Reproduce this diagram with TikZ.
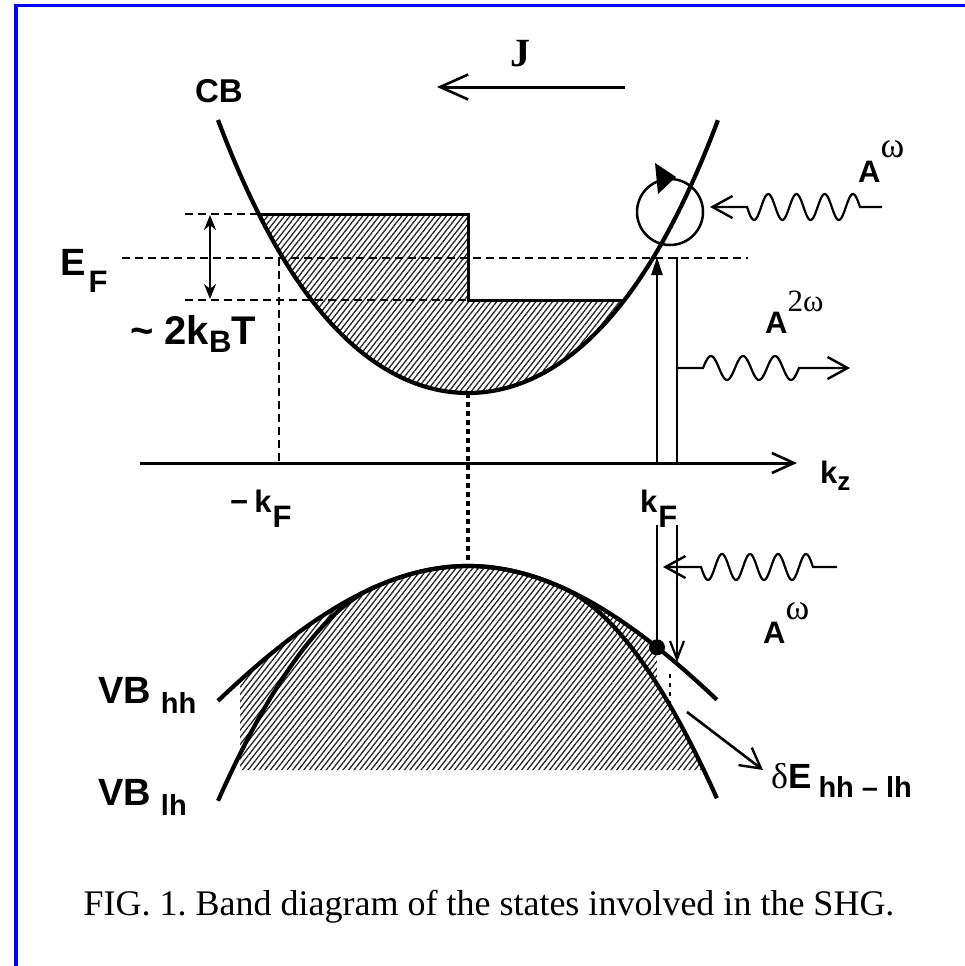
\documentclass[tikz,border=0pt]{standalone}
\usepackage{fontspec}
\setmainfont{Liberation Serif}
\setsansfont{Liberation Sans}
\usetikzlibrary{arrows.meta,patterns.meta}
\newcommand\fs[1]{\fontsize{#1}{#1}\selectfont}
\definecolor{frameblue}{RGB}{0,0,255}
\frenchspacing
\begin{document}
\begin{tikzpicture}[x=1pt,y=-1pt,
  declare function={
    cb(\u)=393-(34.31*\u*\u+1.499*\u*\u*\u*\u);
    hh(\u)=566+447*(sqrt(1+\u*\u/9)-1);
    mm(\u)=max(0,abs(\u)-0.95);
    lh(\u)=hh(\u)+41.6*mm(\u)*mm(\u);
  },
  lab/.style={font=\sffamily\bfseries, inner sep=0pt, anchor=base west},
  bandline/.style={line width=4.2pt, line join=round},
  edgeline/.style={line width=3pt},
  efdash/.style={line width=2.8pt, dash pattern=on 8pt off 5pt},
  dotline/.style={line width=3.4pt, dash pattern=on 5pt off 4pt},
  vline/.style={line width=2.6pt},
  wave/.style={line width=2.2pt},
  hatch/.style={pattern={Lines[angle=52,distance=4.4pt,line width=1.3pt]}, pattern color=black!85},
  barb/.style={-{Straight Barb[length=20pt,width=22pt,line width=2.4pt]}},
]
\useasboundingbox (0,0) rectangle (965,966);
% frame
\draw[frameblue, line width=3pt] (14,5.8) -- (965,5.8);
\draw[frameblue, line width=4pt] (16,4.3) -- (16,966);

% key points
\coordinate (cbmin) at (468,393);
\coordinate (vbmax) at (468,566);
\coordinate (kaxL) at (140,463);
\coordinate (kaxR) at (797,463);
\coordinate (dotpt) at (657,{hh(1.89)});

% CB shading
\fill[hatch] (258.5,214) -- (468,214) -- (468,300) -- (624.5,300)
  -- plot[domain=1.565:-2.095,samples=80] ({468+100*\x},{cb(\x)}) -- cycle;
\draw[edgeline] (258.5,214) -- (468,214) -- (468,300) -- (624.5,300);
% VB shading
\fill[hatch] (240,770) -- plot[domain=-2.28:1.89,samples=90] ({468+100*\x},{hh(\x)})
  -- plot[domain=1.89:2.358,samples=20] ({468+100*\x},{lh(\x)}) -- cycle;

% bands
\draw[bandline] plot[domain=-2.5:2.5,samples=140] ({468+100*\x},{cb(\x)});
\draw[bandline] plot[domain=-2.5:2.49,samples=140] ({468+100*\x},{hh(\x)});
\draw[bandline] plot[domain=-2.5:2.49,samples=140] ({468+100*\x},{lh(\x)});

% dashed levels
\draw[efdash] (185,214) -- (258.5,214);
\draw[efdash] (122,258) -- (748,258);
\draw[efdash] (185,300) -- (468,300);
\draw[efdash] (279,258) -- (279,463);
\draw[dotline] (cbmin) -- (vbmax);
\draw[vline, {Stealth[length=15pt,width=12pt]}-{Stealth[length=15pt,width=12pt]}] (210,215) -- (210,299);

% axis
\draw[edgeline, -{Straight Barb[length=22pt,width=20pt,line width=2.6pt]}] (kaxL) -- (kaxR);

% transitions at kF
\draw[vline] (dotpt) -- (657,525);
\draw[vline, -{Triangle[length=18pt,width=11pt]}] (657,463) -- (657,257);
\draw[vline] (677,257) -- (677,463);
\draw[vline, -{Straight Barb[length=18pt,width=14pt,line width=2.2pt]}] (677,525) -- (677,662);
\fill (dotpt) circle[radius=8pt];
\draw[line width=2.5pt, dash pattern=on 4pt off 5pt] (670,674) -- (670,706);
\draw[vline, barb] (687,712) -- (763,770);

% circle
\draw[line width=2.5pt] (670,212) circle[radius=33pt];
\fill (655,163) -- (658,194) -- (676,177) -- cycle;

% waves
\draw[wave, barb] (882,207) -- (860,207) -- plot[domain=0:113,samples=100] ({860-\x},{207-13*sin(360*(\x/28.25))}) -- (710,207);
\draw[wave, barb] (677,368) -- (703,368) -- plot[domain=0:96,samples=90] ({703+\x},{368-12*sin(360*(\x/32))}) -- (850,368);
\draw[wave, barb] (837,567) -- (813,567) -- plot[domain=0:112,samples=100] ({813-\x},{567-13*sin(360*(\x/28))}) -- (663,567);

% current
\draw[edgeline, -{Straight Barb[length=28pt,width=25pt,line width=2.6pt]}] (625,87) -- (437,87);

% labels
\node[lab, anchor=center] (CB) at (219,91.5) {\fs{33}CB};
\node[font=\rmfamily\bfseries\fs{40}, inner sep=0pt, anchor=center] (J) at (520,54) {J};
\node[lab] (EF) at (60,275) {\fs{38}E\kern3pt\raisebox{-17pt}{\fs{31}F}};
\node[lab] (kbt) at (130,344) {\fs{40}\textasciitilde\ 2k\raisebox{-8pt}{\fs{31}B}T};
\node[lab] (mkF) at (230,512) {\fs{31}−\kern6pt k\kern1pt\raisebox{-15pt}{F}};
\node[lab] (kF) at (640,512) {\fs{31}k\kern1pt\raisebox{-15pt}{F}};
\node[lab] (kz) at (820,483) {\fs{31}k\raisebox{-7pt}{\fs{26}z}};
\node[lab] (Aw1) at (858,182) {\fs{31}A\raisebox{25pt}{\rmfamily\mdseries\fs{36}ω}};
\node[lab] (A2w) at (765,333) {\fs{31}A\raisebox{22pt}{\rmfamily\mdseries\fs{31}2ω}};
\node[lab] (Aw2) at (763,643) {\fs{31}A\raisebox{24pt}{\rmfamily\mdseries\fs{36}ω}};
\node[lab] (dE) at (771,788) {{\rmfamily\mdseries\fs{36}δ}\fs{35}E\kern7pt\raisebox{-9pt}{\fs{29}hh – lh}};
\node[lab] (VBhh) at (98,703) {\fs{38}VB\kern10pt\raisebox{-10pt}{\fs{29}hh}};
\node[lab] (VBlh) at (98,805) {\fs{38}VB\kern10pt\raisebox{-10pt}{\fs{29}lh}};
\node[font=\rmfamily\fs{36}, anchor=base, inner sep=0pt] (cap) at (489,915) {FIG. 1. Band diagram of the states involved in the SHG.};
\end{tikzpicture}
\end{document}
